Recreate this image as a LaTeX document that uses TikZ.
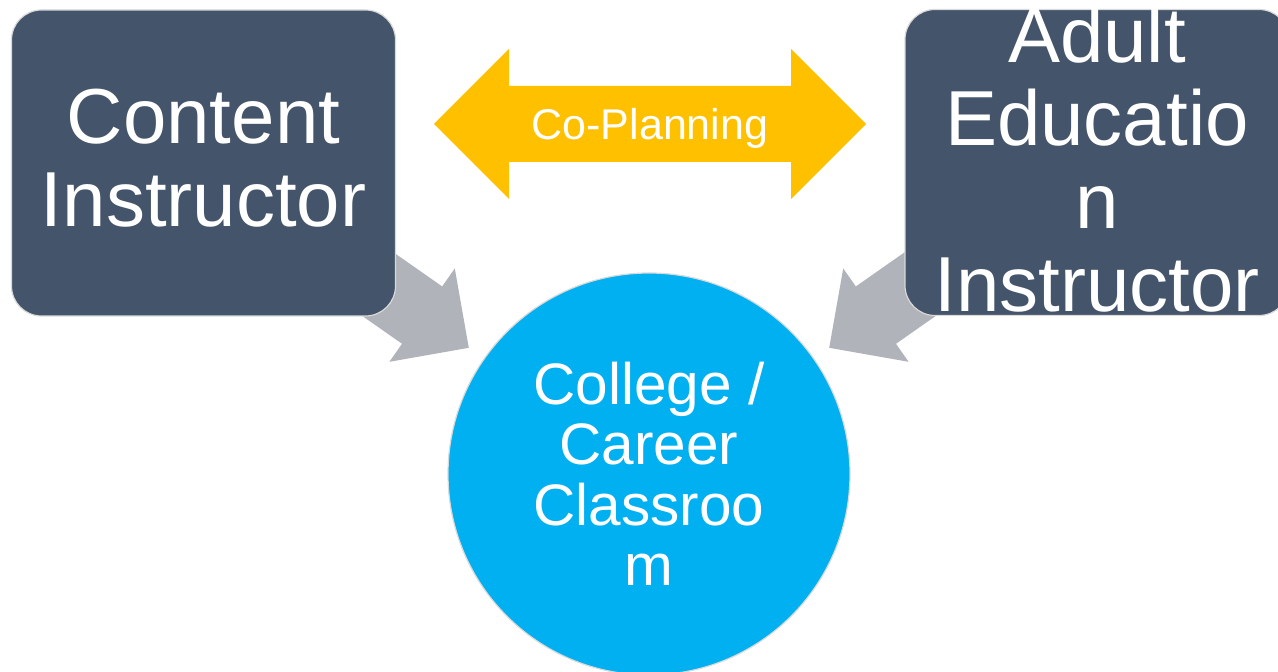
\documentclass[tikz,border=0pt]{standalone}
\usepackage{fontspec}
\setmainfont{Liberation Sans}
\usepackage{xcolor}
\definecolor{slate}{HTML}{44546A}
\definecolor{sky}{HTML}{00B0F0}
\definecolor{gold}{HTML}{FFC000}
\definecolor{ash}{HTML}{B0B3BA}
\definecolor{rim}{HTML}{D9D9D9}

\begin{document}
\begin{tikzpicture}[
        x=1pt,y=1pt,
        box/.style={rectangle,rounded corners=30pt,fill=slate,draw=rim,
            line width=1.2pt,text=white,align=center,
            text depth=11pt,inner ysep=0pt,
            minimum width=384pt,minimum height=306pt,
            font=\fontsize{78}{83}\selectfont},
        room/.style={circle,fill=sky,draw=rim,line width=1.2pt,
            minimum size=402pt,inner sep=0pt,text=white,align=center,
            font=\fontsize{58.5}{60.5}\selectfont},
    ]
\useasboundingbox (0,0) rectangle (1278,672);

% classroom
\node[room] (room) at (649,198) {College /\\Career\\Classroo\\m};

% grey arrows into the classroom
\foreach \ang in {145,35} {
  \begin{scope}[shift={(room.center)},rotate=\ang]
    \fill[ash] (220,0) -- (277,57) -- (277,35) -- (370,35)
          -- (370,-35) -- (277,-35) -- (277,-57) -- cycle;
  \end{scope}
}

% instructors
\node[box] (content) at (203.5,509) {Content\\Instructor};
\node[box,text height=299pt,text depth=1pt] (adult) at (1097,509.5)
    {Adult\\Educatio\\n\\Instructor};

% co-planning
\fill[gold] (434,548) -- (509,623) -- (509,586) -- (791,586) -- (791,623)
      -- (866,548) -- (791,473) -- (791,510) -- (509,510) -- (509,473) -- cycle;
\node[anchor=base,text=white,inner sep=0pt,font=\fontsize{43}{50}\selectfont]
    (plan) at (650,532) {Co-Planning};
\end{tikzpicture}
\end{document}
